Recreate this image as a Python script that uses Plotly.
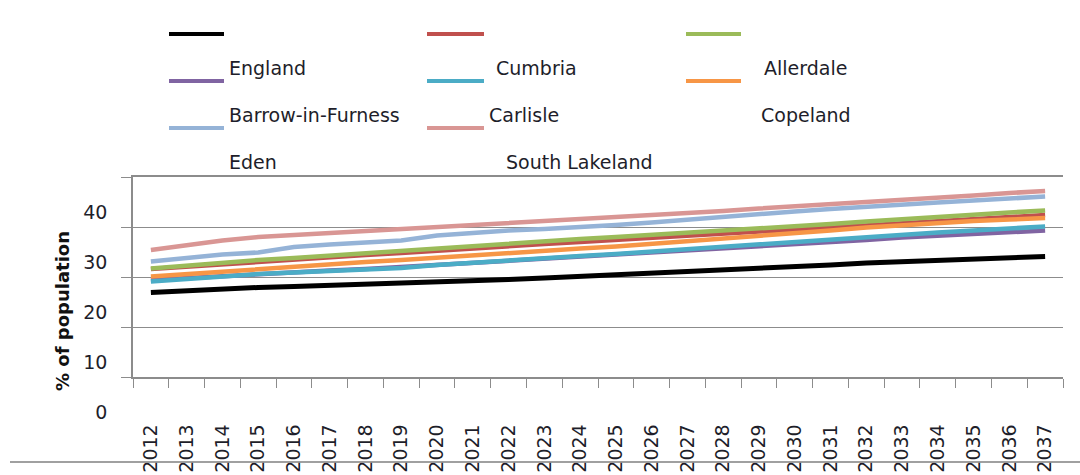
import plotly.graph_objects as go

# ---------------- data ----------------
years = ["2012", "2013", "2014", "2015", "2016", "2017", "2018", "2019", "2020",
         "2021", "2022", "2023", "2024", "2025", "2026", "2027", "2028", "2029",
         "2030", "2031", "2032", "2033", "2034", "2035", "2036", "2037"]

england = [16.9, 17.3, 17.6, 17.9, 18.1, 18.3, 18.5, 18.8, 19.0, 19.2, 19.5, 19.8, 20.1,
           20.4, 20.7, 21.0, 21.3, 21.6, 22.0, 22.4, 22.8, 23.1, 23.4, 23.7, 23.9, 24.1]
cumbria = [21.6, 22.1, 22.6, 23.1, 23.5, 23.9, 24.4, 24.8, 25.3, 25.8, 26.2, 26.6, 27.0,
           27.4, 27.8, 28.2, 28.6, 29.0, 29.4, 29.9, 30.3, 30.8, 31.2, 31.6, 32.0, 32.4]
allerdale = [21.7, 22.3, 22.9, 23.4, 23.8, 24.3, 24.8, 25.3, 25.8, 26.3, 26.8, 27.2, 27.6,
             28.0, 28.4, 28.8, 29.2, 29.6, 30.1, 30.6, 31.1, 31.6, 32.1, 32.5, 32.9, 33.3]
barrow = [19.4, 19.8, 20.3, 20.7, 21.0, 21.3, 21.6, 22.0, 22.4, 22.8, 23.2, 23.6, 24.0,
          24.4, 24.8, 25.2, 25.6, 26.1, 26.5, 26.9, 27.4, 27.9, 28.3, 28.7, 29.0, 29.3]
carlisle = [19.1, 19.6, 20.2, 20.6, 20.9, 21.2, 21.5, 21.8, 22.4, 22.9, 23.4, 23.8, 24.2,
            24.6, 25.1, 25.5, 26.0, 26.5, 27.0, 27.5, 28.0, 28.5, 28.9, 29.3, 29.7, 30.1]
copeland = [20.1, 20.6, 21.2, 21.7, 22.1, 22.5, 23.0, 23.4, 23.9, 24.4, 24.9, 25.3, 25.7,
            26.1, 26.6, 27.1, 27.6, 28.1, 28.7, 29.3, 29.9, 30.4, 30.8, 31.2, 31.5, 31.8]
eden = [23.1, 23.9, 24.5, 24.9, 26.0, 26.5, 26.9, 27.3, 28.3, 28.9, 29.3, 29.6, 29.9,
        30.4, 30.9, 31.5, 32.1, 32.6, 33.1, 33.6, 34.1, 34.5, 34.9, 35.3, 35.7, 36.1]
south_lakeland = [25.4, 26.4, 27.3, 28.0, 28.4, 28.8, 29.1, 29.4, 29.8, 30.2, 30.6, 31.0, 31.4,
                  31.8, 32.3, 32.8, 33.2, 33.7, 34.1, 34.5, 35.0, 35.4, 35.9, 36.3, 36.8, 37.2]

series_names = ["England", "Cumbria", "Allerdale", "Barrow-in-Furness", "Carlisle",
                "Copeland", "Eden", "South Lakeland"]
series_values = [england, cumbria, allerdale, barrow, carlisle, copeland, eden, south_lakeland]
y_ticks = [0, 10, 20, 30, 40]

# ---------------- styling ----------------
colors = ["#000000", "#C0504D", "#9BBB59", "#8064A2", "#4BACC6", "#F79646", "#95B3D7", "#D99694"]
widths = [5, 4.5, 4.5, 4.5, 4.5, 4.5, 4.5, 4.5]
FONT = "DejaVu Sans"
TXT = "#1e1e2a"
GRID = "#8c8c8c"

W, H = 1080, 475
L, R, T, B = 133, 1063, 177, 377


def px(x):
    return (x - L) / (R - L)


def py(y):
    return (B - y) / (B - T)


fig = go.Figure()
for name, vals, col, w in zip(series_names, series_values, colors, widths):
    fig.add_trace(go.Scatter(x=years, y=vals, mode="lines", name=name,
                             line=dict(color=col, width=w), showlegend=False))

# ---------------- hand-drawn legend (symbols above, labels offset) ----------------
sym_cols = [(169, 224), (427, 484), (686, 741)]
sym_rows = [34, 81, 128]
label_pos = [(227, 68), (494, 68), (762, 68),
             (227, 115), (487, 115), (759, 115),
             (227, 162), (504, 162)]
shapes = []
annotations = []
for i, (name, col) in enumerate(zip(series_names, colors)):
    c, r = i % 3, i // 3
    x0, x1 = sym_cols[c]
    shapes.append(dict(type="line", xref="paper", yref="paper",
                       x0=px(x0), x1=px(x1), y0=py(sym_rows[r]), y1=py(sym_rows[r]),
                       line=dict(color=col, width=4)))
    lx, ly = label_pos[i]
    annotations.append(dict(text=name, xref="paper", yref="paper", x=px(lx), y=py(ly),
                            xanchor="left", yanchor="middle", showarrow=False,
                            font=dict(family=FONT, size=19, color=TXT)))

# separator line near the bottom
shapes.append(dict(type="line", xref="paper", yref="paper", x0=px(10), x1=px(1080),
                   y0=py(462), y1=py(462), line=dict(color="#808080", width=1.5)))

# y-axis title (sits lower than the plot centre, as in the reference)
annotations.append(dict(text="<b>% of population</b>", xref="paper", yref="paper",
                        x=px(62), y=py(311), textangle=-90, showarrow=False,
                        xanchor="center", yanchor="middle",
                        font=dict(family=FONT, size=18, color="#111111")))

fig.update_layout(
    width=W, height=H,
    margin=dict(l=L, r=W - R, t=T, b=H - B, pad=0, autoexpand=False),
    paper_bgcolor="white", plot_bgcolor="white",
    font=dict(family=FONT, color=TXT),
    shapes=shapes, annotations=annotations,
    showlegend=False,
)
fig.update_xaxes(
    type="category", range=[-0.5, len(years) - 0.5], automargin=False,
    tickson="boundaries", ticks="outside", ticklen=9, tickwidth=1.3, tickcolor=GRID,
    showline=True, linecolor=GRID, linewidth=1.5, mirror=True,
    showgrid=False, tickangle=-90, ticklabelstandoff=38,
    tickfont=dict(family=FONT, size=19, color=TXT),
)
fig.update_yaxes(
    range=[0, 40], tickvals=y_ticks, ticktext=[str(v) for v in y_ticks], automargin=False,
    ticks="outside", ticklen=10, tickwidth=1.3, tickcolor=GRID,
    showline=True, linecolor=GRID, linewidth=1.5,
    showgrid=True, gridcolor=GRID, gridwidth=1.3, zeroline=False,
    ticklabelshift=35, ticklabelstandoff=10,
    tickfont=dict(family=FONT, size=19, color=TXT),
)

fig.write_html("out.html", config={"displayModeBar": False},
               post_script="document.body.style.margin='0';")
